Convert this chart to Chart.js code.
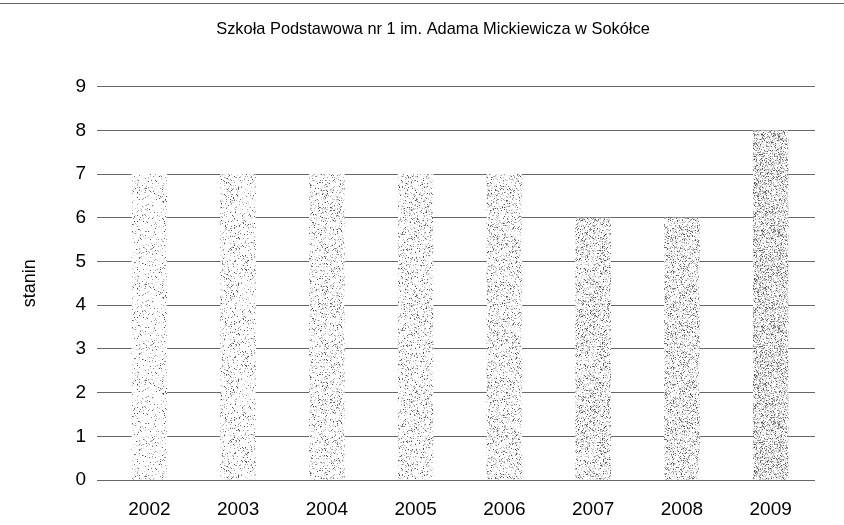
<!DOCTYPE html>
<html>
<head>
<meta charset="utf-8">
<script src="https://cdn.jsdelivr.net/npm/chart.js@4.4.0/dist/chart.umd.min.js"></script>
<style>
    body { margin: 0; background: #fff; }
    #wrap { width: 844px; height: 525px; }
</style>
</head>
<body>
<div id="wrap"><canvas id="bar-chart" width="844" height="525"></canvas></div>
<script>
var years = ['2002', '2003', '2004', '2005', '2006', '2007', '2008', '2009'];
var staninValues = [7, 7, 7, 7, 7, 6, 6, 8];
var yTicks = [0, 1, 2, 3, 4, 5, 6, 7, 8, 9];
var chartTitle = 'Szkoła Podstawowa nr 1 im. Adama Mickiewicza w Sokółce';
var axisTitle = 'stanin';

// speckle density of each bar's stipple texture (later bars look darker)
var speckle = [0.09, 0.12, 0.16, 0.16, 0.18, 0.24, 0.24, 0.32];

function seeded(seed) {
    return function () {
        seed |= 0; seed = seed + 0x6D2B79F5 | 0;
        var t = Math.imul(seed ^ seed >>> 15, 1 | seed);
        t = t + Math.imul(t ^ t >>> 7, 61 | t) ^ t;
        return ((t ^ t >>> 14) >>> 0) / 4294967296;
    };
}

function stipple(density, seed) {
    var size = 96;
    var c = document.createElement('canvas');
    c.width = size; c.height = size;
    var g = c.getContext('2d');
    var img = g.createImageData(size, size);
    var rnd = seeded(seed);
    for (var i = 0; i < size * size; i++) {
        var v = 255;
        var r = rnd();
        if (r < density * 0.35) v = 70 + Math.floor(rnd() * 70);
        else if (r < density) v = 150 + Math.floor(rnd() * 60);
        else if (r < density * 1.6) v = 215 + Math.floor(rnd() * 25);
        img.data[i * 4] = v;
        img.data[i * 4 + 1] = v;
        img.data[i * 4 + 2] = v;
        img.data[i * 4 + 3] = 255;
    }
    g.putImageData(img, 0, 0);
    return document.getElementById('bar-chart').getContext('2d').createPattern(c, 'repeat');
}

var barFills = speckle.map(function (d, i) { return stipple(d, 11 + i * 7); });

// thin rule along the top of the picture
var topRule = {
    id: 'topRule',
    afterDraw: function (chart) {
        var ctx = chart.ctx;
        ctx.save();
        ctx.strokeStyle = 'rgba(0,0,0,0.6)';
        ctx.lineWidth = 1;
        ctx.beginPath();
        ctx.moveTo(0, 3.5);
        ctx.lineTo(chart.width, 3.5);
        ctx.stroke();
        ctx.restore();
    }
};

var fontFamily = '"Liberation Sans", Arial, sans-serif';

var ctx1 = document.getElementById('bar-chart');
var myChart = new Chart(ctx1.getContext('2d'), {
    type: 'bar',
    data: {
        labels: years,
        datasets: [{
            label: axisTitle,
            data: staninValues,
            backgroundColor: barFills,
            borderWidth: 0,
            barPercentage: 0.4,
            categoryPercentage: 1
        }]
    },
    plugins: [topRule],
    options: {
        responsive: false,
        animation: false,
        devicePixelRatio: 1,
        layout: {
            padding: { left: 51, right: 29, top: 0, bottom: 0 }
        },
        plugins: {
            legend: { display: false },
            tooltip: { enabled: false },
            title: {
                display: true,
                text: chartTitle,
                color: '#000',
                font: { family: fontFamily, size: 16.4, weight: 'normal' },
                padding: { top: 20, bottom: 47 }
            }
        },
        scales: {
            x: {
                grid: { display: false },
                border: { display: false },
                ticks: {
                    color: '#000',
                    padding: 10,
                    maxRotation: 0,
                    font: { family: fontFamily, size: 19 }
                },
                afterFit: function (scale) { scale.height = 45; }
            },
            y: {
                min: 0,
                max: 9,
                afterBuildTicks: function (scale) {
                    scale.ticks = yTicks.map(function (v) { return { value: v }; });
                },
                grid: {
                    color: 'rgba(0,0,0,0.6)',
                    lineWidth: 1,
                    drawTicks: true,
                    tickLength: 8
                },
                border: { display: false },
                ticks: {
                    color: '#000',
                    padding: 11,
                    font: { family: fontFamily, size: 19 }
                },
                title: {
                    display: true,
                    text: axisTitle,
                    color: '#000',
                    font: { family: fontFamily, size: 18 },
                    padding: { top: -32, bottom: 0 }
                },
                afterFit: function (scale) { scale.width = 54; }
            }
        }
    }
});
</script>
</body>
</html>
